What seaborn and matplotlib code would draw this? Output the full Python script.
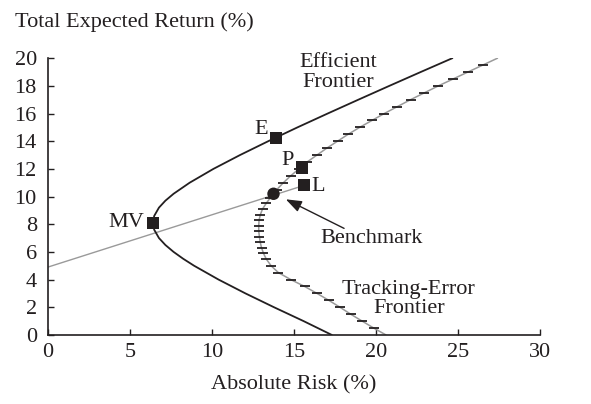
import matplotlib
matplotlib.use('Agg')
import matplotlib.pyplot as plt
import seaborn as sns

# Efficient frontier: absolute risk (%) vs total expected return (%)
ef_risk = [17.3, 15.58, 13.78, 12.04, 10.40, 8.91, 8.25, 7.66, 7.16, 6.77, 6.48, 6.40,
           6.48, 6.77, 7.16, 7.66, 8.64, 10.09, 11.71, 13.43, 15.21, 17.05, 18.92,
           20.81, 22.72, 24.65]
ef_return = [0, 1, 2, 3, 4, 5, 5.5, 6, 6.5, 7, 7.6, 8.1,
             8.6, 9.2, 9.7, 10.2, 11, 12, 13, 14, 15, 16, 17,
             18, 19, 20]

# Tracking-error frontier (each inner point carries a small tick mark)
te_risk = [20.6, 19.85, 19.15, 18.45, 17.8, 17.12, 16.4, 15.65, 14.8, 14.05, 13.6, 13.3,
           13.14, 13.02, 12.94, 12.89, 12.85, 12.85, 12.87, 12.95, 13.08, 13.3, 13.55,
           13.95, 14.35, 14.8, 15.3, 15.8, 16.4, 17.0, 17.65, 18.3, 19.0, 19.75, 20.5,
           21.3, 22.1, 22.95, 23.8, 24.7, 25.6, 26.5, 27.4]
te_return = [0, 0.5, 1, 1.5, 2, 2.5, 3, 3.5, 4, 4.5, 5, 5.5,
             5.9, 6.3, 6.7, 7.1, 7.5, 7.9, 8.3, 8.7, 9.1, 9.5, 9.9,
             10.5, 11, 11.5, 12, 12.5, 13, 13.5, 14, 14.5, 15, 15.5, 16,
             16.5, 17, 17.5, 18, 18.5, 19, 19.5, 20]

# Labelled portfolios
port_names = ['MV', 'E', 'P', 'L']
port_risk = [6.4, 13.9, 15.5, 15.6]
port_return = [8.1, 14.2, 12.1, 10.8]

bench_risk = [13.75]
bench_return = [10.2]

# straight line through the benchmark out to L
line_risk = [0, 15.6]
line_return = [4.9, 10.8]

x_ticks = [0, 5, 10, 15, 20, 25, 30]
y_ticks = [0, 2, 4, 6, 8, 10, 12, 14, 16, 18, 20]

sns.set_style('ticks')
plt.rcParams['font.family'] = ['Liberation Serif', 'DejaVu Serif']
plt.rcParams['font.size'] = 16
ink = '#231f20'
gray = '#9a9a9a'

fig = plt.figure(figsize=(5.91, 4.04), dpi=100)
ax = fig.add_axes([0.081, 0.171, 0.833, 0.685])

sns.lineplot(x=line_risk, y=line_return, color=gray, lw=1.0, ax=ax)
sns.lineplot(x=ef_risk, y=ef_return, sort=False, estimator=None, color=ink, lw=1.3, ax=ax)
sns.lineplot(x=te_risk, y=te_return, sort=False, estimator=None, color=gray, lw=1.1,
             marker='_', markersize=6.5, markeredgecolor=ink, markeredgewidth=1.3,
             markevery=slice(1, -1), ax=ax)

sns.scatterplot(x=port_risk, y=port_return, marker='s', s=75, color=ink,
                edgecolor='none', zorder=5, ax=ax)
sns.scatterplot(x=bench_risk, y=bench_return, marker='o', s=80, color=ink,
                edgecolor='none', zorder=5, ax=ax)

# point labels
offsets = {'MV': (-6, 0, 'right'), 'E': (-6, 6.5, 'right'),
           'P': (-6, 5, 'right'), 'L': (5.5, -1, 'left')}
for name, x, y in zip(port_names, port_risk, port_return):
    dx, dy, ha = offsets[name]
    ax.annotate(name, (x, y), xytext=(dx, dy), textcoords='offset points',
                ha=ha, va='center', color=ink)

ax.text(17.7, 18.95, 'Efficient\nFrontier', ha='center', va='center',
        linespacing=1.1, color=ink)
ax.text(22.0, 2.6, 'Tracking-Error\nFrontier', ha='center', va='center',
        linespacing=1.05, color=ink)
ax.text(16.6, 6.95, 'Benchmark', ha='left', va='center', color=ink)
ax.annotate('', xy=(14.5, 9.8), xytext=(18.05, 7.7),
            arrowprops=dict(arrowstyle='-|>,head_length=0.6,head_width=0.22',
                            color=ink, lw=1.0, shrinkA=0, shrinkB=0))

ax.set_xlim(0, 30)
ax.set_ylim(0, 20)
ax.set_xticks(x_ticks)
ax.set_yticks(y_ticks)
ax.tick_params(direction='in', length=4, width=1, colors=ink, labelcolor=ink)
ax.tick_params(axis='y', pad=8)
ax.tick_params(axis='x', pad=6)
for s in ['left', 'bottom']:
    ax.spines[s].set_linewidth(1.2)
    ax.spines[s].set_color(ink)
sns.despine(ax=ax)

ax.set_xlabel('Absolute Risk (%)', labelpad=9, color=ink)
ax.set_ylabel('')
ax.text(-0.067, 1.13, 'Total Expected Return (%)', transform=ax.transAxes,
        ha='left', va='center', color=ink)

fig.savefig('out.png', dpi=100)
